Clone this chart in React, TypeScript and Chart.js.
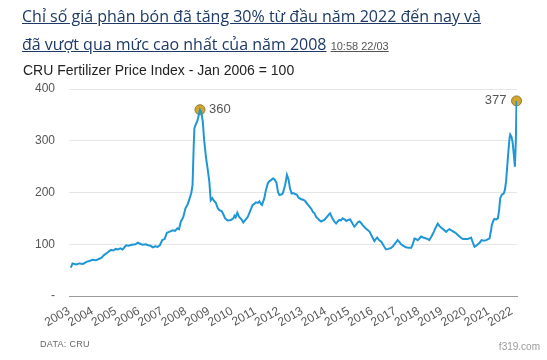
import React, { useEffect, useRef } from 'react';
import { Chart, registerables } from 'chart.js';
Chart.register(...registerables);

const years = [
  2003.08, 2003.15, 2003.3, 2003.45, 2003.6, 2003.75, 2003.9, 2004.0, 2004.15, 2004.3, 2004.4, 2004.5, 2004.65, 2004.8, 2004.9,
  2005.0, 2005.1, 2005.2, 2005.3, 2005.45, 2005.55, 2005.7, 2005.85, 2005.95, 2006.05, 2006.15, 2006.3, 2006.4, 2006.5, 2006.6,
  2006.7, 2006.8, 2006.9, 2007.0, 2007.1, 2007.2, 2007.3, 2007.45, 2007.55, 2007.65, 2007.72, 2007.8, 2007.9, 2008.0, 2008.1,
  2008.2, 2008.25, 2008.3, 2008.35, 2008.38, 2008.45, 2008.5, 2008.57, 2008.62, 2008.68, 2008.74, 2008.8, 2008.88, 2008.95, 2009.02,
  2009.08, 2009.15, 2009.22, 2009.3, 2009.38, 2009.45, 2009.55, 2009.62, 2009.7, 2009.8, 2009.95, 2010.05, 2010.1, 2010.15, 2010.22,
  2010.3, 2010.4, 2010.48, 2010.57, 2010.67, 2010.78, 2010.88, 2010.95, 2011.02, 2011.1, 2011.17, 2011.23, 2011.28, 2011.38, 2011.45,
  2011.53, 2011.6, 2011.67, 2011.75, 2011.82, 2011.9, 2011.97, 2012.03, 2012.1, 2012.17, 2012.27, 2012.35, 2012.42, 2012.48, 2012.55,
  2012.62, 2012.7, 2012.77, 2012.85, 2012.96, 2013.05, 2013.14, 2013.22, 2013.31, 2013.4, 2013.47, 2013.53, 2013.6, 2013.67, 2013.75,
  2013.82, 2013.9, 2013.96, 2014.05, 2014.12, 2014.2, 2014.25, 2014.3, 2014.38, 2014.46, 2014.53, 2014.6, 2014.67, 2014.74, 2014.82,
  2014.9, 2014.98, 2015.06, 2015.15, 2015.24, 2015.32, 2015.4, 2015.46, 2015.53, 2015.6, 2015.66, 2015.72, 2015.8, 2015.9, 2016.0,
  2016.1, 2016.16, 2016.22, 2016.3, 2016.4, 2016.5, 2016.6, 2016.7, 2016.82, 2016.9, 2016.96, 2017.05, 2017.1, 2017.18, 2017.25,
  2017.35, 2017.46, 2017.57, 2017.68, 2017.75, 2017.82, 2017.9, 2017.96, 2018.05, 2018.1, 2018.2, 2018.32, 2018.4, 2018.46, 2018.55,
  2018.65, 2018.73, 2018.82, 2018.9, 2018.97, 2019.08, 2019.18, 2019.25, 2019.32, 2019.4, 2019.47, 2019.58, 2019.68, 2019.8, 2019.9,
  2020.0, 2020.1, 2020.2, 2020.25, 2020.32, 2020.4, 2020.47, 2020.54, 2020.62, 2020.7, 2020.8, 2020.9, 2020.98, 2021.04, 2021.1,
  2021.14, 2021.2, 2021.25, 2021.33, 2021.4, 2021.45, 2021.5, 2021.57, 2021.65, 2021.7, 2021.75, 2021.8, 2021.85, 2021.9, 2021.93,
  2021.98, 2022.03, 2022.08, 2022.13, 2022.17, 2022.2,
];

const values = [
  55, 63, 61, 63, 62, 66, 68, 70, 69, 72, 74, 79, 84, 89, 88,
  91, 90, 92, 90, 98, 97, 99, 100, 103, 101, 99, 100, 98, 97, 94,
  96, 95, 98, 108, 110, 122, 124, 127, 126, 131, 129, 144, 152, 170, 178,
  192, 200, 214, 290, 324, 333, 337, 350, 360, 355, 337, 300, 267, 245, 221,
  185, 189, 184, 180, 170, 166, 164, 158, 150, 146, 147, 150, 155, 152, 161,
  153, 148, 142, 147, 153, 165, 176, 178, 181, 180, 183, 178, 176, 189, 205,
  218, 222, 224, 227, 225, 219, 200, 195, 196, 198, 214, 234, 225, 208, 198,
  199, 197, 196, 190, 187, 186, 183, 178, 173, 168, 162, 160, 153, 150, 146,
  144, 146, 147, 152, 156, 160, 155, 150, 144, 140, 144, 147, 146, 150, 148,
  145, 147, 148, 141, 134, 138, 143, 144, 141, 137, 134, 131, 128, 124, 115,
  106, 110, 113, 108, 105, 97, 90, 91, 93, 96, 100, 105, 108, 104, 100,
  97, 94, 93, 93, 100, 111, 110, 108, 112, 115, 113, 111, 110, 108, 115,
  124, 132, 140, 135, 132, 128, 124, 127, 129, 127, 125, 122, 118, 113, 110,
  110, 110, 112, 113, 104, 95, 97, 100, 103, 108, 107, 108, 110, 111, 125,
  137, 145, 149, 148, 150, 165, 189, 196, 198, 205, 221, 250, 279, 305, 312,
  308, 298, 275, 250, 300, 377,
];

const tickYears = [
  2003, 2004, 2005, 2006, 2007, 2008, 2009, 2010, 2011, 2012,
  2013, 2014, 2015, 2016, 2017, 2018, 2019, 2020, 2021, 2022,
];
const yTickValues = [0, 100, 200, 300, 400];

const markerYears = [2008.62, 2022.2];
const markerValues = [360, 377];
const markerLabels = ['360', '377'];

const FONT = "'Liberation Sans', Arial, sans-serif";

const markerLabelPlugin = {
  id: 'markerLabels',
  afterDatasetsDraw(chart: any) {
    const meta = chart.getDatasetMeta(1);
    const ctx = chart.ctx;
    ctx.save();
    ctx.font = `13px ${FONT}`;
    ctx.fillStyle = '#555';
    ctx.textBaseline = 'middle';
    meta.data.forEach((el: any, i: number) => {
      const last = i === meta.data.length - 1;
      ctx.textAlign = last ? 'right' : 'left';
      ctx.fillText(markerLabels[i], el.x + (last ? -10 : 9), el.y);
    });
    ctx.restore();
  },
};

export default function App() {
  const canvasRef = useRef<HTMLCanvasElement | null>(null);

  useEffect(() => {
    document.body.style.margin = '0';
    const canvas = canvasRef.current;
    if (!canvas) return;
    const chart = new Chart(canvas, {
      type: 'line',
      data: {
        datasets: [
          {
            data: years.map((x, i) => ({ x, y: values[i] })),
            borderColor: '#1f97d6',
            borderWidth: 2,
            pointRadius: 0,
            tension: 0,
            fill: false,
          },
          {
            data: markerYears.map((x, i) => ({ x, y: markerValues[i] })),
            showLine: false,
            pointRadius: 5,
            pointHoverRadius: 5,
            pointBackgroundColor: '#d3a52a',
            pointBorderColor: '#8c7a3c',
            pointBorderWidth: 1,
            clip: false,
          } as any,
        ],
      },
      options: {
        animation: false,
        responsive: false,
        devicePixelRatio: 1,
        events: [],
        layout: { padding: { top: 89, right: 30, bottom: 0, left: 0 } },
        plugins: {
          legend: { display: false },
          tooltip: { enabled: false },
          title: { display: false },
        },
        scales: {
          x: {
            type: 'linear',
            min: 2003,
            max: 2022.22,
            afterBuildTicks: (scale: any) => {
              scale.ticks = tickYears.map((v) => ({ value: v }));
            },
            afterFit: (scale: any) => {
              scale.height = 64;
            },
            grid: { display: true, drawOnChartArea: false, drawTicks: false, color: 'rgba(0,0,0,0)' },
            border: { display: true, color: '#9a9a9a', width: 1 },
            ticks: {
              autoSkip: false,
              minRotation: 30,
              maxRotation: 30,
              padding: 8,
              color: '#555',
              font: { family: FONT, size: 12 },
              callback: (v: any) => String(v),
            },
          },
          y: {
            min: 0,
            max: 400,
            afterBuildTicks: (scale: any) => {
              scale.ticks = yTickValues.map((v) => ({ value: v }));
            },
            afterFit: (scale: any) => {
              scale.width = 69;
            },
            grid: {
              drawTicks: false,
              color: (c: any) => (c.tick && c.tick.value === 0 ? '#9a9a9a' : '#e6e6e6'),
              lineWidth: 1,
            },
            border: { display: false },
            ticks: {
              padding: 14,
              color: '#555',
              font: { family: FONT, size: 12 },
              callback: (v: any) => (v === 0 ? '-' : String(v)),
            },
          },
        },
      },
      plugins: [markerLabelPlugin],
    } as any);
    return () => chart.destroy();
  }, []);

  const titleStyle: React.CSSProperties = {
    position: 'absolute',
    left: 22,
    top: 2,
    width: 520,
    fontFamily: "'Open Sans', 'Noto Sans', sans-serif",
    fontSize: 16,
    lineHeight: '28px',
    color: '#1d3a66',
    margin: 0,
  };

  return (
    <div style={{ position: 'relative', width: 547, height: 360, background: '#fff', overflow: 'hidden' }}>
      <canvas ref={canvasRef} width={547} height={360} style={{ position: 'absolute', left: 0, top: 0, width: 547, height: 360 }} />
      <div style={titleStyle}>
        <span style={{ textDecoration: 'underline' }}>Chỉ số giá phân bón đã tăng 30% từ đầu năm 2022 đến nay và</span>
        <br />
        <span style={{ textDecoration: 'underline' }}>đã vượt qua mức cao nhất của năm 2008</span>{' '}
        <span style={{ textDecoration: 'underline', fontSize: 11, color: '#555', fontFamily: FONT }}>10:58 22/03</span>
      </div>
      <div
        style={{
          position: 'absolute',
          left: 23,
          top: 62,
          fontFamily: FONT,
          fontSize: 14,
          lineHeight: '16px',
          color: '#222',
          whiteSpace: 'nowrap',
        }}
      >
        CRU Fertilizer Price Index - Jan 2006 = 100
      </div>
      <div
        style={{
          position: 'absolute',
          left: 40,
          top: 339,
          fontFamily: FONT,
          fontSize: 9,
          lineHeight: '10px',
          letterSpacing: 0.3,
          color: '#666',
          whiteSpace: 'nowrap',
        }}
      >
        DATA: CRU
      </div>
      <div
        style={{
          position: 'absolute',
          right: 7,
          top: 341,
          fontFamily: FONT,
          fontSize: 10,
          lineHeight: '12px',
          color: '#9a9a9a',
          whiteSpace: 'nowrap',
        }}
      >
        f319.com
      </div>
    </div>
  );
}
